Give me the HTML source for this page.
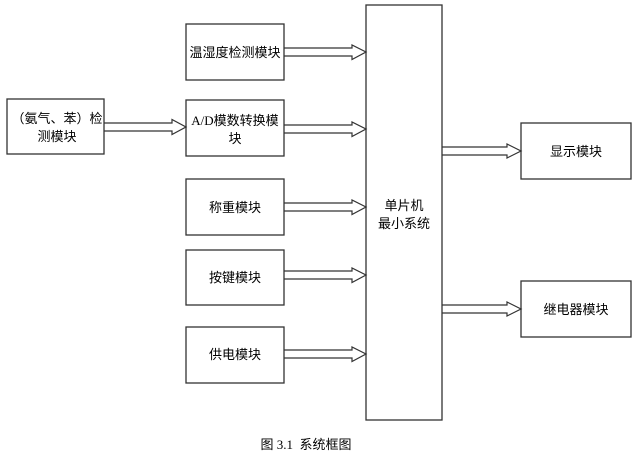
<!DOCTYPE html>
<html><head><meta charset="utf-8"><style>
html,body{margin:0;padding:0;background:#fff;}
svg text{font-family:"Liberation Serif","Noto Sans CJK SC",sans-serif;font-size:13px;fill:#000;}
</style></head><body>
<svg width="639" height="463" viewBox="0 0 639 463" xmlns="http://www.w3.org/2000/svg">
<g fill="#fff" stroke="#333" stroke-width="1.3">
<rect x="7" y="99" width="97" height="55"/>
<rect x="186" y="24" width="98" height="56"/>
<rect x="186" y="100" width="98" height="56"/>
<rect x="186" y="179" width="98" height="56"/>
<rect x="186" y="250" width="98" height="55"/>
<rect x="186" y="327" width="98" height="56"/>
<rect x="366" y="5" width="76" height="415"/>
<rect x="521" y="123" width="110" height="56"/>
<rect x="521" y="281" width="110" height="56"/>
</g>
<g fill="none" stroke="#333" stroke-width="1.2">
<polyline points="104,123 172,123 172,119.5 186,127 172,134.5 172,131 104,131"/>
<polyline points="284,48 352,48 352,45 366,52 352,59.5 352,56 284,56"/>
<polyline points="284,125 352,125 352,122 366,129 352,136.5 352,133 284,133"/>
<polyline points="284,203 352,203 352,200 366,207 352,214.5 352,211 284,211"/>
<polyline points="284,271 352,271 352,268 366,275 352,282.5 352,279 284,279"/>
<polyline points="284,350 352,350 352,347 366,354 352,361.5 352,358 284,358"/>
<polyline points="442,147 507,147 507,144 521,151 507,158 507,155 442,155"/>
<polyline points="442,305 507,305 507,302 521,309 507,316 507,313 442,313"/>
</g>
<text x="57" y="123" text-anchor="middle">（氨气、苯）检</text>
<text x="57" y="141" text-anchor="middle">测模块</text>
<text x="235" y="57" text-anchor="middle">温湿度检测模块</text>
<text x="235" y="125" text-anchor="middle">A/D模数转换模</text>
<text x="235" y="143" text-anchor="middle">块</text>
<text x="235" y="212" text-anchor="middle">称重模块</text>
<text x="235" y="282" text-anchor="middle">按键模块</text>
<text x="235" y="359" text-anchor="middle">供电模块</text>
<text x="404" y="210" text-anchor="middle">单片机</text>
<text x="404" y="228" text-anchor="middle">最小系统</text>
<text x="576" y="156" text-anchor="middle">显示模块</text>
<text x="576" y="314" text-anchor="middle">继电器模块</text>
<text x="306" y="449" text-anchor="middle">图 3.1&#160;&#160;系统框图</text>
</svg>
</body></html>
